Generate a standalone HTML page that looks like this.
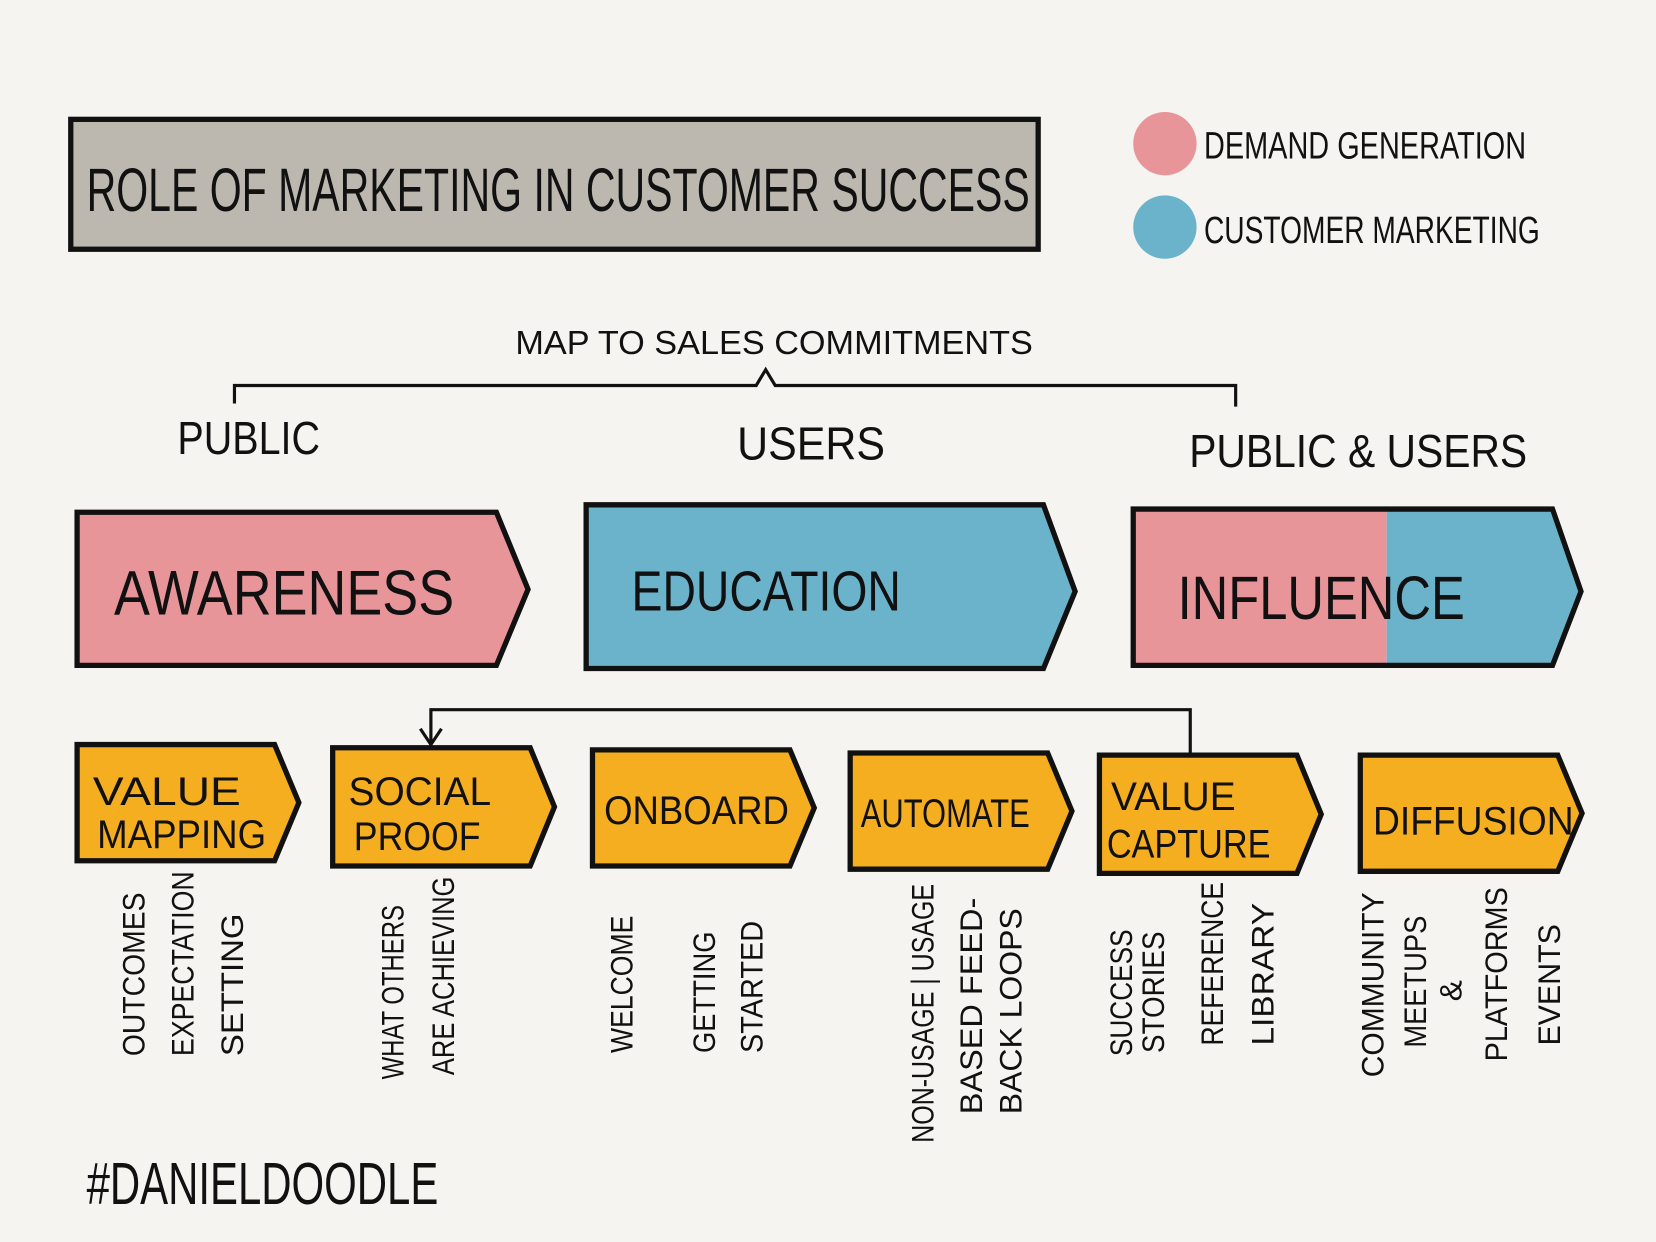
<!DOCTYPE html>
<html><head><meta charset="utf-8"><style>
html,body{margin:0;padding:0;background:#f5f4f0;}
svg{display:block}
text{font-family:"Liberation Sans Narrow","Liberation Sans",sans-serif;fill:#111;}
</style></head><body>
<svg width="1656" height="1242" viewBox="0 0 1568 1176" xmlns="http://www.w3.org/2000/svg">
<rect width="1568" height="1176" fill="#f5f4f0"/>
<rect x="67" y="113" width="916" height="123" fill="#bcb8b0" stroke="#111" stroke-width="5"/>
<text x="82" y="200" font-size="58" textLength="893" lengthAdjust="spacingAndGlyphs">ROLE OF MARKETING IN CUSTOMER SUCCESS</text>
<circle cx="1103" cy="136" r="30" fill="#e8959a"/>
<circle cx="1103" cy="215" r="30" fill="#6bb3cb"/>
<text x="1140" y="150" font-size="36" textLength="305" lengthAdjust="spacingAndGlyphs">DEMAND GENERATION</text>
<text x="1140" y="230" font-size="36" textLength="318" lengthAdjust="spacingAndGlyphs">CUSTOMER MARKETING</text>
<text x="488" y="335" font-size="32" textLength="490" lengthAdjust="spacingAndGlyphs">MAP TO SALES COMMITMENTS</text>
<path d="M222 382 L222 365 L716 365 L725 350 L734 365 L1170 365 L1170 385" fill="none" stroke="#111" stroke-width="3"/>
<text x="168" y="430" font-size="44" textLength="135" lengthAdjust="spacingAndGlyphs">PUBLIC</text>
<text x="698" y="435" font-size="44" textLength="140" lengthAdjust="spacingAndGlyphs">USERS</text>
<text x="1126" y="442" font-size="44" textLength="320" lengthAdjust="spacingAndGlyphs">PUBLIC &amp; USERS</text>
<polygon points="73,485 470,485 500,558 470,630 73,630" fill="#e8959a" stroke="#111" stroke-width="5"/>
<text x="108" y="582" font-size="60" textLength="322" lengthAdjust="spacingAndGlyphs">AWARENESS</text>
<polygon points="555,478 988,478 1018,560 988,633 555,633" fill="#6bb3cb" stroke="#111" stroke-width="5"/>
<text x="598" y="578" font-size="54" textLength="255" lengthAdjust="spacingAndGlyphs">EDUCATION</text>
<polygon points="1073,482 1313,482 1313,630 1073,630" fill="#e8959a"/>
<polygon points="1313,482 1470,482 1497,560 1470,630 1313,630" fill="#6bb3cb"/>
<polygon points="1073,482 1470,482 1497,560 1470,630 1073,630" fill="none" stroke="#111" stroke-width="5"/>
<text x="1115" y="586" font-size="58" textLength="272" lengthAdjust="spacingAndGlyphs">INFLUENCE</text>
<path d="M1127 713 L1127 672 L408 672 L408 705" fill="none" stroke="#111" stroke-width="3"/>
<path d="M398 690 L408 705 L418 690" fill="none" stroke="#111" stroke-width="3"/>
<g fill="#f5ae20" stroke="#111" stroke-width="5">
<polygon points="73,705 260,705 283,760 260,815 73,815"/>
<polygon points="315,708 502,708 525,764 502,820 315,820"/>
<polygon points="561,710 748,710 771,765 748,820 561,820"/>
<polygon points="805,713 992,713 1015,768 992,823 805,823"/>
<polygon points="1041,715 1228,715 1251,771 1228,827 1041,827"/>
<polygon points="1288,715 1475,715 1498,770 1475,825 1288,825"/>
</g>
<g font-size="38">
<text x="88" y="762" textLength="140" lengthAdjust="spacingAndGlyphs">VALUE</text>
<text x="92" y="803" textLength="160" lengthAdjust="spacingAndGlyphs">MAPPING</text>
<text x="330" y="762" textLength="135" lengthAdjust="spacingAndGlyphs">SOCIAL</text>
<text x="335" y="805" textLength="120" lengthAdjust="spacingAndGlyphs">PROOF</text>
<text x="572" y="780" textLength="175" lengthAdjust="spacingAndGlyphs">ONBOARD</text>
<text x="815" y="783" textLength="160" lengthAdjust="spacingAndGlyphs">AUTOMATE</text>
<text x="1052" y="767" textLength="118" lengthAdjust="spacingAndGlyphs">VALUE</text>
<text x="1048" y="812" textLength="155" lengthAdjust="spacingAndGlyphs">CAPTURE</text>
<text x="1300" y="790" textLength="190" lengthAdjust="spacingAndGlyphs">DIFFUSION</text>
</g>
<g font-size="30">
<text transform="translate(137,1000) rotate(-90)" textLength="155" lengthAdjust="spacingAndGlyphs">OUTCOMES</text>
<text transform="translate(183,1000) rotate(-90)" textLength="175" lengthAdjust="spacingAndGlyphs">EXPECTATION</text>
<text transform="translate(230,1000) rotate(-90)" textLength="135" lengthAdjust="spacingAndGlyphs">SETTING</text>
<text transform="translate(382,1022) rotate(-90)" textLength="165" lengthAdjust="spacingAndGlyphs">WHAT OTHERS</text>
<text transform="translate(430,1018) rotate(-90)" textLength="188" lengthAdjust="spacingAndGlyphs">ARE ACHIEVING</text>
<text transform="translate(599,997) rotate(-90)" textLength="130" lengthAdjust="spacingAndGlyphs">WELCOME</text>
<text transform="translate(677,997) rotate(-90)" textLength="115" lengthAdjust="spacingAndGlyphs">GETTING</text>
<text transform="translate(722,997) rotate(-90)" textLength="125" lengthAdjust="spacingAndGlyphs">STARTED</text>
<text transform="translate(884,1082) rotate(-90)" textLength="245" lengthAdjust="spacingAndGlyphs">NON-USAGE | USAGE</text>
<text transform="translate(930,1055) rotate(-90)" textLength="205" lengthAdjust="spacingAndGlyphs">BASED FEED-</text>
<text transform="translate(967,1055) rotate(-90)" textLength="195" lengthAdjust="spacingAndGlyphs">BACK LOOPS</text>
<text transform="translate(1072,1000) rotate(-90)" textLength="120" lengthAdjust="spacingAndGlyphs">SUCCESS</text>
<text transform="translate(1102,997) rotate(-90)" textLength="115" lengthAdjust="spacingAndGlyphs">STORIES</text>
<text transform="translate(1158,990) rotate(-90)" textLength="155" lengthAdjust="spacingAndGlyphs">REFERENCE</text>
<text transform="translate(1206,990) rotate(-90)" textLength="135" lengthAdjust="spacingAndGlyphs">LIBRARY</text>
<text transform="translate(1310,1020) rotate(-90)" textLength="175" lengthAdjust="spacingAndGlyphs">COMMUNITY</text>
<text transform="translate(1350,992) rotate(-90)" textLength="125" lengthAdjust="spacingAndGlyphs">MEETUPS</text>
<text transform="translate(1384,948) rotate(-90)">&amp;</text>
<text transform="translate(1427,1005) rotate(-90)" textLength="165" lengthAdjust="spacingAndGlyphs">PLATFORMS</text>
<text transform="translate(1477,990) rotate(-90)" textLength="115" lengthAdjust="spacingAndGlyphs">EVENTS</text>
</g>
<text x="82" y="1140" font-size="56" textLength="333" lengthAdjust="spacingAndGlyphs">#DANIELDOODLE</text>
</svg>
</body></html>
